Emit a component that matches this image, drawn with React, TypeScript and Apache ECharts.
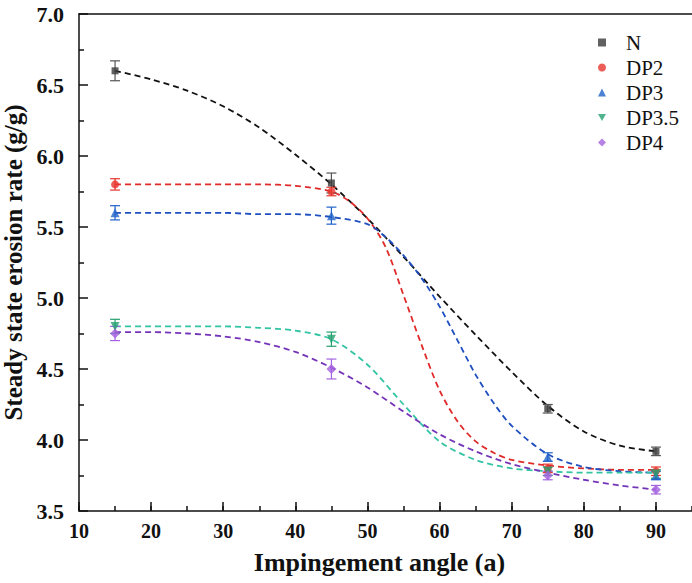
import React, { useEffect, useRef } from "react";
import * as echarts from "echarts";

// measured points
const angles = [15, 45, 75, 90];
const seriesNames = ["N", "DP2", "DP3", "DP3.5", "DP4"];
const valN = [6.6, 5.81, 4.22, 3.92];
const valDP2 = [5.8, 5.75, 3.8, 3.78];
const valDP3 = [5.6, 5.58, 3.88, 3.75];
const valDP35 = [4.8, 4.71, 3.78, 3.76];
const valDP4 = [4.75, 4.5, 3.75, 3.65];
const errN = [0.07, 0.07, 0.03, 0.03];
const errDP2 = [0.04, 0.03, 0.03, 0.03];
const errDP3 = [0.05, 0.06, 0.03, 0.03];
const errDP35 = [0.05, 0.05, 0.03, 0.03];
const errDP4 = [0.05, 0.07, 0.03, 0.03];

// fitted curves
const fitXN = [15, 20, 25, 30, 35, 40, 45, 50, 55, 60, 65, 70, 75, 80, 85, 90];
const fitN = [6.6, 6.54, 6.46, 6.35, 6.2, 6.01, 5.8, 5.56, 5.29, 5.01, 4.74, 4.48, 4.24, 4.06, 3.96, 3.92];
const fitXDP2 = [15, 20, 25, 30, 35, 40, 45, 47.5, 50, 52.5, 55, 57.5, 60, 62.5, 65, 67.5, 70, 75, 80, 85, 90];
const fitDP2 = [5.8, 5.8, 5.8, 5.8, 5.8, 5.79, 5.75, 5.68, 5.56, 5.36, 5.02, 4.67, 4.35, 4.13, 3.99, 3.91, 3.86, 3.82, 3.8, 3.79, 3.79];
const fitXDP3 = [15, 20, 25, 30, 35, 40, 45, 50, 52.5, 55, 57.5, 60, 62.5, 65, 67.5, 70, 75, 80, 85, 90];
const fitDP3 = [5.6, 5.6, 5.6, 5.6, 5.59, 5.59, 5.57, 5.52, 5.43, 5.3, 5.14, 4.94, 4.7, 4.46, 4.26, 4.1, 3.9, 3.81, 3.78, 3.77];
const fitXDP35 = [15, 20, 25, 30, 35, 40, 45, 50, 55, 60, 65, 70, 75, 80, 85, 90];
const fitDP35 = [4.8, 4.8, 4.8, 4.8, 4.79, 4.77, 4.71, 4.53, 4.25, 3.99, 3.86, 3.8, 3.78, 3.77, 3.77, 3.77];
const fitXDP4 = [15, 20, 25, 30, 35, 40, 45, 50, 55, 60, 65, 70, 75, 80, 85, 90];
const fitDP4 = [4.76, 4.76, 4.75, 4.73, 4.69, 4.62, 4.51, 4.37, 4.2, 4.04, 3.92, 3.83, 3.77, 3.72, 3.68, 3.65];

const xTicksMajor = { min: 10, max: 95, interval: 10 };
const yTicks = { min: 3.5, max: 7, interval: 0.5 };

const FONT = "Liberation Serif";
const DOWN_TRIANGLE = "path://M0,0 L10,0 L5,9 Z";

const defs = [
  { name: "N", vals: valN, errs: errN, fx: fitXN, fy: fitN, marker: "#3a3a3a", line: "#111111", err: "#555555", symbol: "rect", size: 7 },
  { name: "DP2", vals: valDP2, errs: errDP2, fx: fitXDP2, fy: fitDP2, marker: "#e8352e", line: "#e02a2a", err: "#e8352e", symbol: "circle", size: 8 },
  { name: "DP3", vals: valDP3, errs: errDP3, fx: fitXDP3, fy: fitDP3, marker: "#1f62c9", line: "#1f4fc0", err: "#1f62c9", symbol: "triangle", size: 9 },
  { name: "DP3.5", vals: valDP35, errs: errDP35, fx: fitXDP35, fy: fitDP35, marker: "#25a070", line: "#33c4a4", err: "#25a070", symbol: DOWN_TRIANGLE, size: 9 },
  { name: "DP4", vals: valDP4, errs: errDP4, fx: fitXDP4, fy: fitDP4, marker: "#a463e0", line: "#7434b8", err: "#a463e0", symbol: "diamond", size: 10 },
];

export default function App() {
  const ref = useRef<HTMLDivElement>(null);
  useEffect(() => {
    document.body.style.margin = "0";
    if (!ref.current) return;
    const chart = echarts.init(ref.current, null, { renderer: "svg" });
    const series: any[] = [];
    defs.forEach((d) => {
      series.push({
        name: d.name + " fit",
        type: "line",
        data: d.fx.map((x, i) => [x, d.fy[i]]),
        smooth: 0.3,
        symbol: "none",
        lineStyle: { color: d.line, width: 1.8, type: [6, 4] },
        z: 2,
        silent: true,
      });
      series.push({
        name: d.name + " err",
        type: "custom",
        data: angles.map((x, i) => [x, d.vals[i] - d.errs[i], d.vals[i] + d.errs[i]]),
        renderItem: (params: any, api: any) => {
          const x = api.value(0);
          const top = api.coord([x, api.value(2)]);
          const bot = api.coord([x, api.value(1)]);
          const w = 5;
          const st = { stroke: d.err, lineWidth: 1.2 };
          return {
            type: "group",
            children: [
              { type: "line", shape: { x1: top[0], y1: top[1], x2: bot[0], y2: bot[1] }, style: st },
              { type: "line", shape: { x1: top[0] - w, y1: top[1], x2: top[0] + w, y2: top[1] }, style: st },
              { type: "line", shape: { x1: bot[0] - w, y1: bot[1], x2: bot[0] + w, y2: bot[1] }, style: st },
            ],
          };
        },
        z: 3,
        silent: true,
      });
      series.push({
        name: d.name,
        type: "scatter",
        data: angles.map((x, i) => [x, d.vals[i]]),
        symbol: d.symbol,
        symbolSize: d.size,
        itemStyle: { color: d.marker },
        z: 4,
      });
    });

    chart.setOption({
      animation: false,
      backgroundColor: "#ffffff",
      grid: { left: 79, right: 0, top: 14, bottom: 72, containLabel: false, outerBoundsMode: "none" },
      legend: {
        data: seriesNames,
        orient: "vertical",
        left: 593,
        top: 27,
        itemWidth: 8,
        itemHeight: 8,
        itemGap: 4,
        textStyle: { fontFamily: FONT, fontSize: 21, color: "#111", padding: [0, 0, 0, 15] },
      },
      xAxis: [
        {
          type: "value",
          ...xTicksMajor,
          position: "bottom",
          axisLine: { show: true, lineStyle: { color: "#111", width: 1.5 } },
          axisTick: { show: true, inside: true, length: 9, lineStyle: { color: "#111", width: 1.5 } },
          axisLabel: { fontFamily: FONT, fontWeight: "bold", fontSize: 20, color: "#111", margin: 10, showMaxLabel: false },
          splitLine: { show: false },
          name: "Impingement angle (a)",
          nameLocation: "middle",
          nameGap: 38,
          nameTextStyle: { fontFamily: FONT, fontWeight: "bold", fontSize: 26, color: "#111", padding: [0, 12, 0, 0] },
        },
        {
          type: "value",
          min: 10,
          max: 95,
          interval: 5,
          position: "bottom",
          axisLine: { show: false },
          axisTick: { show: true, inside: true, length: 5, lineStyle: { color: "#111", width: 1.5 } },
          axisLabel: { show: false },
          splitLine: { show: false },
        },
        {
          type: "value",
          min: 10,
          max: 95,
          position: "top",
          axisLine: { show: true, lineStyle: { color: "#111", width: 1.5 } },
          axisTick: { show: false },
          axisLabel: { show: false },
          splitLine: { show: false },
        },
      ],
      yAxis: {
        type: "value",
        ...yTicks,
        axisLine: { show: true, lineStyle: { color: "#111", width: 1.5 } },
        axisTick: { show: true, inside: true, length: 9, lineStyle: { color: "#111", width: 1.5 } },
        minorTick: { show: true, splitNumber: 2, length: 5, lineStyle: { color: "#111", width: 1.5 } },
        axisLabel: {
          fontFamily: FONT,
          fontWeight: "bold",
          fontSize: 22,
          color: "#111",
          margin: 15,
          formatter: (v: number) => v.toFixed(1),
        },
        splitLine: { show: false },
        name: "Steady state erosion rate (g/g)",
        nameLocation: "middle",
        nameGap: 41,
        nameTextStyle: { fontFamily: FONT, fontWeight: "bold", fontSize: 25, color: "#111" },
      },
      series,
    });
    return () => chart.dispose();
  }, []);
  return <div ref={ref} style={{ width: 692, height: 583 }} />;
}
